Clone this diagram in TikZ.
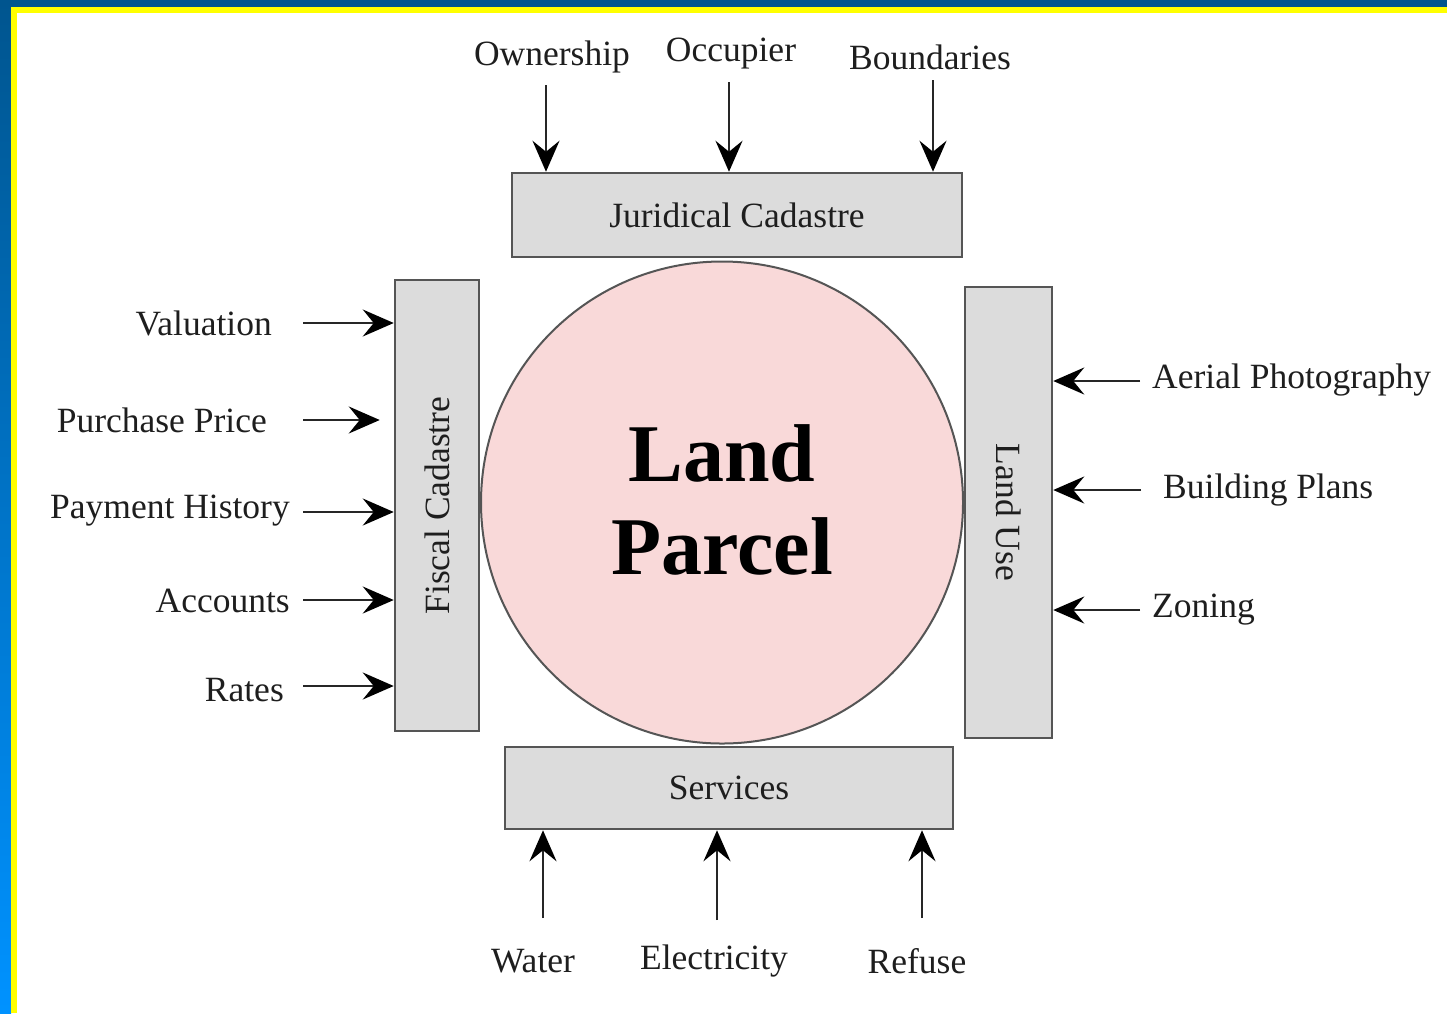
\documentclass[tikz,border=0pt]{standalone}
\usepackage{fontspec}
\setmainfont{Liberation Serif}
\usetikzlibrary{arrows.meta}
\definecolor{blueTop}{HTML}{00558F}
\definecolor{blueBot}{HTML}{0092FF}
\definecolor{boxfill}{HTML}{DCDCDC}
\definecolor{boxline}{HTML}{555555}
\definecolor{pinkfill}{HTML}{F9D9D9}
\definecolor{txt}{HTML}{1E1E1E}
\definecolor{ylw}{HTML}{FFFF00}
\tikzset{
  boxst/.style={draw=boxline, fill=boxfill, line width=2.5pt, inner sep=0pt,
    font=\fontsize{35.5}{40}\selectfont, text=txt},
  lab/.style={font=\fontsize{35.5}{40}\selectfont, text=txt, inner sep=0pt},
  arr/.style={draw=black!85, line width=2.5pt,
    -{Stealth[length=31pt,width=27pt,inset=11pt,black]}},
}
\begin{document}
\begin{tikzpicture}[x=1pt,y=-1pt]
\useasboundingbox (0,0) rectangle (1447,1013);
\fill[white] (0,0) rectangle (1447,1013);
% frame
\shade[top color=blueTop, bottom color=blueBot] (0,0) rectangle (11,1013);
\fill[blueTop] (0,0) rectangle (1447,7);
\fill[ylw] (11,7) rectangle (1447,13);
\fill[ylw] (11,7) rectangle (17,1013);

% circle
\node[circle, draw=boxline, fill=pinkfill, line width=2pt, minimum size=482pt,
  inner sep=0pt] (lp) at (722,502.5) {};
\node[font=\bfseries\fontsize{82}{93}\selectfont, align=center, text=black,
  inner sep=0pt] (lpt) at (722,500) {Land\\Parcel};

% boxes
\node[boxst, minimum width=450pt, minimum height=84pt] (jur) at (737,215) {Juridical Cadastre};
\node[boxst, minimum width=448pt, minimum height=82pt] (srv) at (729,788) {Services};
\node[boxst, minimum width=84pt, minimum height=451pt,
  label={[lab, rotate=90]center:Fiscal Cadastre}] (fis) at (437,505.5) {};
\node[boxst, minimum width=87pt, minimum height=451pt,
  label={[lab, rotate=-90]center:Land Use}] (lu) at (1008.5,512.5) {};

% top labels and arrows
\node[lab] (own) at (552,57) {Ownership};
\node[lab] (occ) at (731,54) {Occupier};
\node[lab] (bnd) at (930,57) {Boundaries};
\coordinate (own1) at (546,85);
\coordinate (occ1) at (729,82);
\coordinate (bnd1) at (933,80);
\draw[arr] (own1) -- (own1 |- jur.north);
\draw[arr] (occ1) -- (occ1 |- jur.north);
\draw[arr] (bnd1) -- (bnd1 |- jur.north);

% left labels and arrows
\node[lab, anchor=east] (val) at (272,323) {Valuation};
\node[lab, anchor=east] (pp) at (267,420) {Purchase Price};
\node[lab, anchor=east] (ph) at (290,511) {Payment History};
\node[lab, anchor=east] (acc) at (290,601) {Accounts};
\node[lab, anchor=east] (rat) at (284,690) {Rates};
\coordinate (val1) at (303,323);
\coordinate (pp1) at (303,420);
\coordinate (ph1) at (303,512);
\coordinate (acc1) at (303,600);
\coordinate (rat1) at (303,686);
\draw[arr] (val1) -- (val1 -| fis.west);
\draw[arr, shorten >=14pt] (pp1) -- (pp1 -| fis.west);
\draw[arr] (ph1) -- (ph1 -| fis.west);
\draw[arr] (acc1) -- (acc1 -| fis.west);
\draw[arr] (rat1) -- (rat1 -| fis.west);

% right labels and arrows
\node[lab, anchor=west] (aer) at (1152,380) {Aerial Photography};
\node[lab, anchor=west] (bp) at (1163,490) {Building Plans};
\node[lab, anchor=west] (zon) at (1152,610) {Zoning};
\coordinate (aer1) at (1140,381);
\coordinate (bp1) at (1141,490);
\coordinate (zon1) at (1140,610);
\draw[arr] (aer1) -- (aer1 -| lu.east);
\draw[arr] (bp1) -- (bp1 -| lu.east);
\draw[arr] (zon1) -- (zon1 -| lu.east);

% bottom labels and arrows
\node[lab] (wat) at (533,961) {Water};
\node[lab] (ele) at (714,961) {Electricity};
\node[lab] (ref) at (917,961) {Refuse};
\coordinate (wat1) at (543,918);
\coordinate (ele1) at (717,920);
\coordinate (ref1) at (922,918);
\draw[arr] (wat1) -- (wat1 |- srv.south);
\draw[arr] (ele1) -- (ele1 |- srv.south);
\draw[arr] (ref1) -- (ref1 |- srv.south);
\end{tikzpicture}
\end{document}
